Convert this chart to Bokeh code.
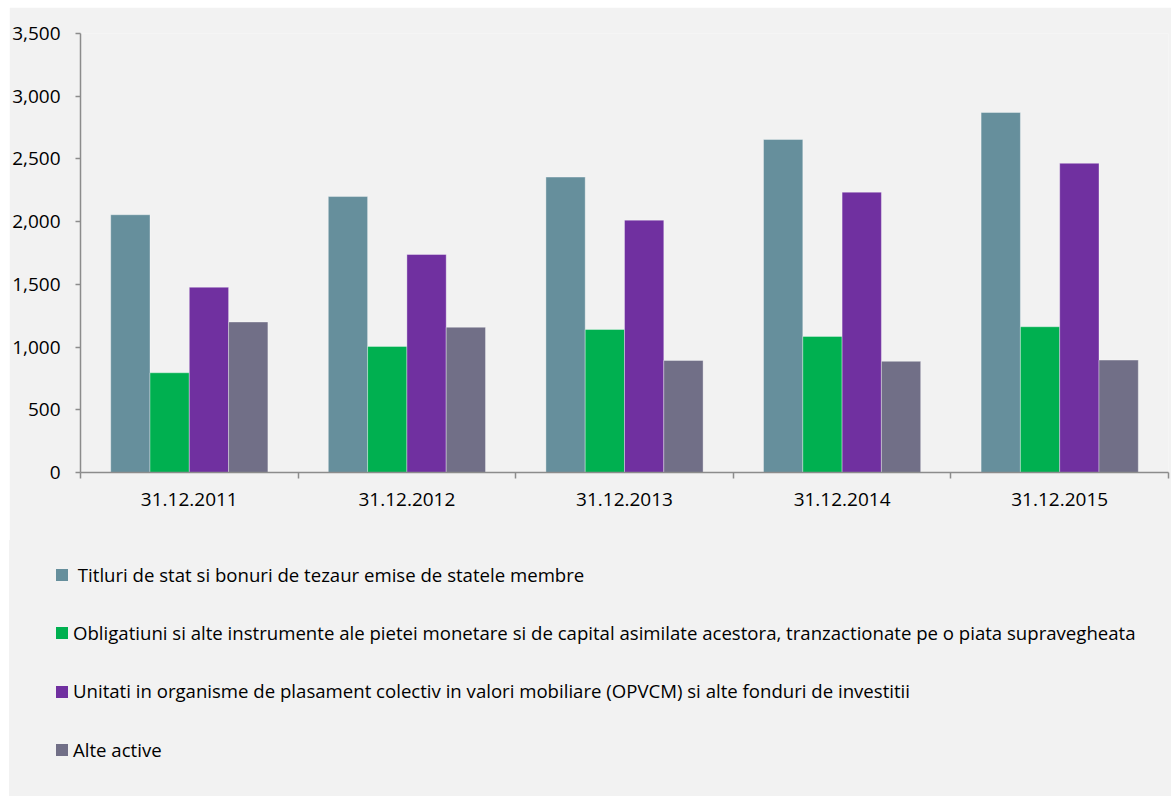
from bokeh.plotting import figure
from bokeh.layouts import column
from bokeh.models import Range1d, FixedTicker, NumeralTickFormatter, ColumnDataSource, Div
from bokeh.embed import file_html
from bokeh.resources import INLINE

categories = ["31.12.2011", "31.12.2012", "31.12.2013", "31.12.2014", "31.12.2015"]
titluri = [2055, 2200, 2355, 2655, 2870]
obligatiuni = [795, 1005, 1140, 1085, 1162]
unitati = [1477, 1738, 2012, 2235, 2465]
alte = [1200, 1158, 893, 886, 896]

series_names = [
    " Titluri de stat si bonuri de tezaur emise de statele membre",
    "Obligatiuni si alte instrumente ale pietei monetare si de capital asimilate acestora, tranzactionate pe o piata supravegheata",
    "Unitati in organisme de plasament colectiv in valori mobiliare (OPVCM) si alte fonduri de investitii",
    "Alte active",
]
series_values = [titluri, obligatiuni, unitati, alte]
colors = ["#668F9C", "#00B050", "#7030A0", "#716F87"]

FONT = "Open Sans"
FS = "19px"
LFS = "18.6px"
BG = "#F2F2F2"
AXIS_C = "#8C8C8C"

OFF_X = 9
OFF_Y = 7
W = 1171 - OFF_X
H_TOP = 540 - OFF_Y
H_LEG = 256

n = len(categories)
p = figure(width=W, height=H_TOP, output_backend="svg", toolbar_location=None,
           x_range=Range1d(0, n), y_range=Range1d(0, 3500),
           min_border_left=80 - OFF_X, min_border_right=3, min_border_top=33 - OFF_Y,
           min_border_bottom=540 - 472)
p.background_fill_color = BG
p.border_fill_color = BG
p.outline_line_color = None
p.xgrid.visible = False
p.ygrid.visible = False

bar_w = 0.1806
for k, (name, vals, col) in enumerate(zip(series_names, series_values, colors)):
    xs = [i + 0.5 + (k - 1.5) * bar_w for i in range(n)]
    src = ColumnDataSource(dict(x=xs, top=vals))
    p.vbar(x="x", top="top", width=bar_w, bottom=0, source=src,
           fill_color=col, line_color="white", line_alpha=0.35, line_width=1)

# x axis: labels at centers, tick marks at boundaries
xa = p.xaxis[0]
xa.ticker = FixedTicker(ticks=[i + 0.5 for i in range(n)], minor_ticks=list(range(n + 1)))
xa.major_label_overrides = {i + 0.5: c for i, c in enumerate(categories)}
xa.major_tick_line_color = None
xa.major_tick_out = 0
xa.major_tick_in = 0
xa.minor_tick_in = 0
xa.minor_tick_out = 6
xa.minor_tick_line_color = AXIS_C
xa.minor_tick_line_width = 1.5
xa.axis_line_color = AXIS_C
xa.axis_line_width = 1.5
xa.major_label_standoff = 14
xa.major_label_text_font = FONT
xa.major_label_text_font_size = FS
xa.major_label_text_color = "black"

ya = p.yaxis[0]
ya.ticker = FixedTicker(ticks=list(range(0, 3501, 500)))
ya.formatter = NumeralTickFormatter(format="0,0")
ya.minor_tick_line_color = None
ya.major_tick_in = 0
ya.major_tick_out = 5
ya.major_tick_line_color = AXIS_C
ya.major_tick_line_width = 1.5
ya.axis_line_color = AXIS_C
ya.axis_line_width = 1.5
ya.major_label_standoff = 15
ya.major_label_text_font = FONT
ya.major_label_text_font_size = FS
ya.major_label_text_color = "black"

# legend block below the chart (HTML, real text)
rows = []
for k, (name, col) in enumerate(zip(series_names, colors)):
    top = 22 + 58.3 * k
    rows.append(
        f'<div style="position:absolute;left:{56 - OFF_X}px;top:{top:.1f}px;height:26px;'
        f'display:flex;align-items:center;white-space:pre;">'
        f'<span style="display:inline-block;width:12px;height:12px;background:{col};'
        f'margin-right:5px;"></span><span>{name}</span></div>'
    )
html = (f'<div style="position:relative;width:{W}px;height:{H_LEG}px;background:{BG};'
        f'font-family:\'{FONT}\';font-size:{LFS};color:black;">' + "".join(rows) + '</div>')
legend_div = Div(text=html, width=W, height=H_LEG, margin=(0, 0, 0, 0),
                 styles={"background-color": BG})

layout = column(p, legend_div, spacing=0, margin=(OFF_Y, 0, 0, OFF_X))
open("out.html", "w").write(file_html(layout, INLINE))
